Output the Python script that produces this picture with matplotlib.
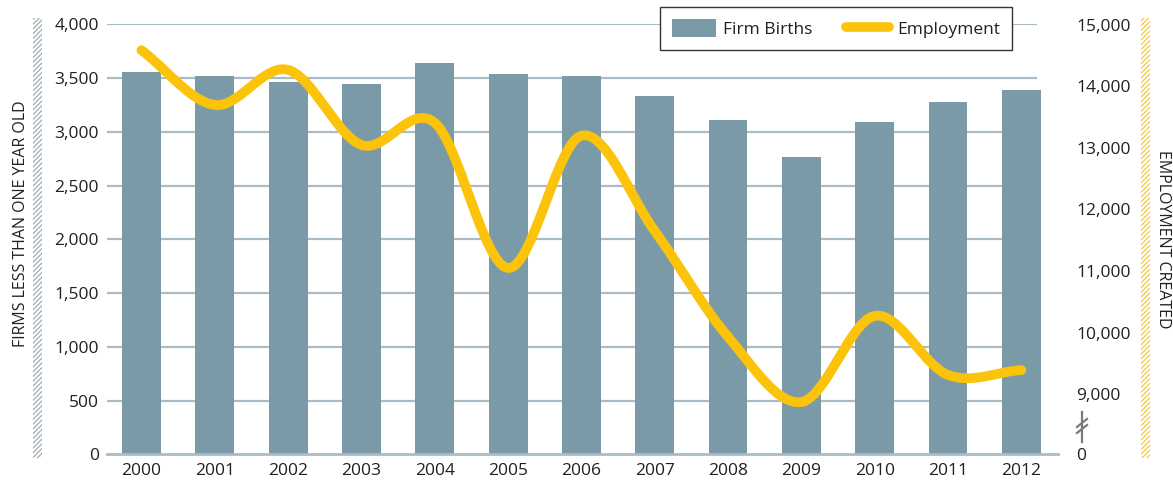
import numpy as np
import matplotlib.pyplot as plt
from matplotlib.patches import Rectangle, Patch
from matplotlib.lines import Line2D

years = ['2000', '2001', '2002', '2003', '2004', '2005', '2006',
         '2007', '2008', '2009', '2010', '2011', '2012']
firm_births = [3558, 3518, 3459, 3443, 3639, 3537, 3518, 3331, 3108, 2763, 3089, 3278, 3387]
employment = [14590, 13700, 14270, 13050, 13410, 11050, 13200, 11650, 9930, 8870, 10270, 9310, 9390]

left_ticks = list(range(0, 4001, 500))
right_ticks = list(range(9000, 15001, 1000))

bar_color = '#7b9aa8'
line_color = '#fcc30b'
grid_color = '#a9bcc7'
text_color = '#231f20'

plt.rcParams['font.family'] = ['Open Sans', 'DejaVu Sans']
plt.rcParams['hatch.linewidth'] = 0.9

W, H = 1173, 486


def catmull_rom(xs, ys, n=40):
    # smooth curve passing through every point
    p = np.column_stack([xs, ys]).astype(float)
    p = np.vstack([2 * p[0] - p[1], p, 2 * p[-1] - p[-2]])
    t = np.linspace(0, 1, n)[:, None]
    out = []
    for i in range(1, len(p) - 2):
        p0, p1, p2, p3 = p[i - 1], p[i], p[i + 1], p[i + 2]
        seg = 0.5 * ((2 * p1) + (-p0 + p2) * t
                     + (2 * p0 - 5 * p1 + 4 * p2 - p3) * t ** 2
                     + (-p0 + 3 * p1 - 3 * p2 + p3) * t ** 3)
        out.append(seg if i == 1 else seg[1:])
    out = np.vstack(out)
    return out[:, 0], out[:, 1]


fig = plt.figure(figsize=(W / 100, H / 100), dpi=100)
ax = fig.add_axes([107 / W, 1 - 454.3 / H, 951 / W, 430 / H])

x = np.arange(len(years))
ax.bar(x, firm_births, width=0.53, color=bar_color, zorder=2)
ax.hlines(left_ticks[1:], -0.47, 12.22, color=grid_color, lw=1.6, zorder=1)
ax.set_xlim(-0.47, 12.5)
ax.set_ylim(0, 4000)
ax.set_xticks(x)
ax.set_xticklabels(years)
ax.set_yticks(left_ticks)
ax.set_yticklabels([f'{v:,}' for v in left_ticks])
ax.tick_params(axis='both', length=0, labelsize=12.5, colors=text_color)
ax.tick_params(axis='y', pad=6)
ax.tick_params(axis='x', pad=6)
for s in ['left', 'right', 'top']:
    ax.spines[s].set_visible(False)
ax.spines['bottom'].set_color(grid_color)
ax.spines['bottom'].set_linewidth(2)

# secondary scale for employment, broken between 0 and 9,000
ax2 = ax.twinx()
ax2.set_ylim(8020, 15011)
ax2.set_yticks([8020] + right_ticks)
ax2.set_yticklabels(['0'] + [f'{v:,}' for v in right_ticks])
ax2.tick_params(axis='y', length=0, labelsize=12.5, colors=text_color, pad=13)
for s in ax2.spines.values():
    s.set_visible(False)

cx, cy = catmull_rom(x, employment)
ax2.plot(cx, cy, color=line_color, lw=7, solid_capstyle='round', zorder=3)

# axis break marker
brk = '#7a7a7a'
fig.add_artist(Line2D([1082 / W, 1082 / W], [1 - 412 / H, 1 - 442 / H], color=brk, lw=1.6))
for yy in (423, 429):
    fig.add_artist(Line2D([1077 / W, 1087 / W], [1 - (yy + 4) / H, 1 - (yy - 4) / H], color=brk, lw=1.6))

# hatched strips beside the axis titles
fig.patches.append(Rectangle((33 / W, 1 - 458 / H), 9 / W, 440 / H, transform=fig.transFigure,
                             fill=False, hatch='///////', edgecolor='#9eadb5', lw=0))
fig.patches.append(Rectangle((1141 / W, 1 - 458 / H), 9 / W, 440 / H, transform=fig.transFigure,
                             fill=False, hatch='///////', edgecolor='#f5c842', lw=0))

fig.text(21 / W, 1 - 224 / H, 'FIRMS LESS THAN ONE YEAR OLD', rotation=90,
         ha='center', va='center', fontsize=11.5, color=text_color)
fig.text(1163 / W, 1 - 239 / H, 'EMPLOYMENT CREATED', rotation=-90,
         ha='center', va='center', fontsize=11.5, color=text_color)

handles = [Patch(facecolor=bar_color),
           Line2D([], [], color=line_color, lw=7, solid_capstyle='round')]
leg = fig.legend(handles, ['Firm Births', 'Employment'], loc='upper left',
                 bbox_to_anchor=(660 / W, 1 - 7 / H), ncol=2, fontsize=12.5,
                 frameon=True, fancybox=False, framealpha=1, edgecolor='#333333',
                 handlelength=2.5, handleheight=1.2, columnspacing=1.9,
                 handletextpad=0.45, borderpad=0.7, borderaxespad=0)
leg.get_frame().set_linewidth(1.0)
for t in leg.get_texts():
    t.set_color(text_color)

fig.savefig('out.png', dpi=100)
